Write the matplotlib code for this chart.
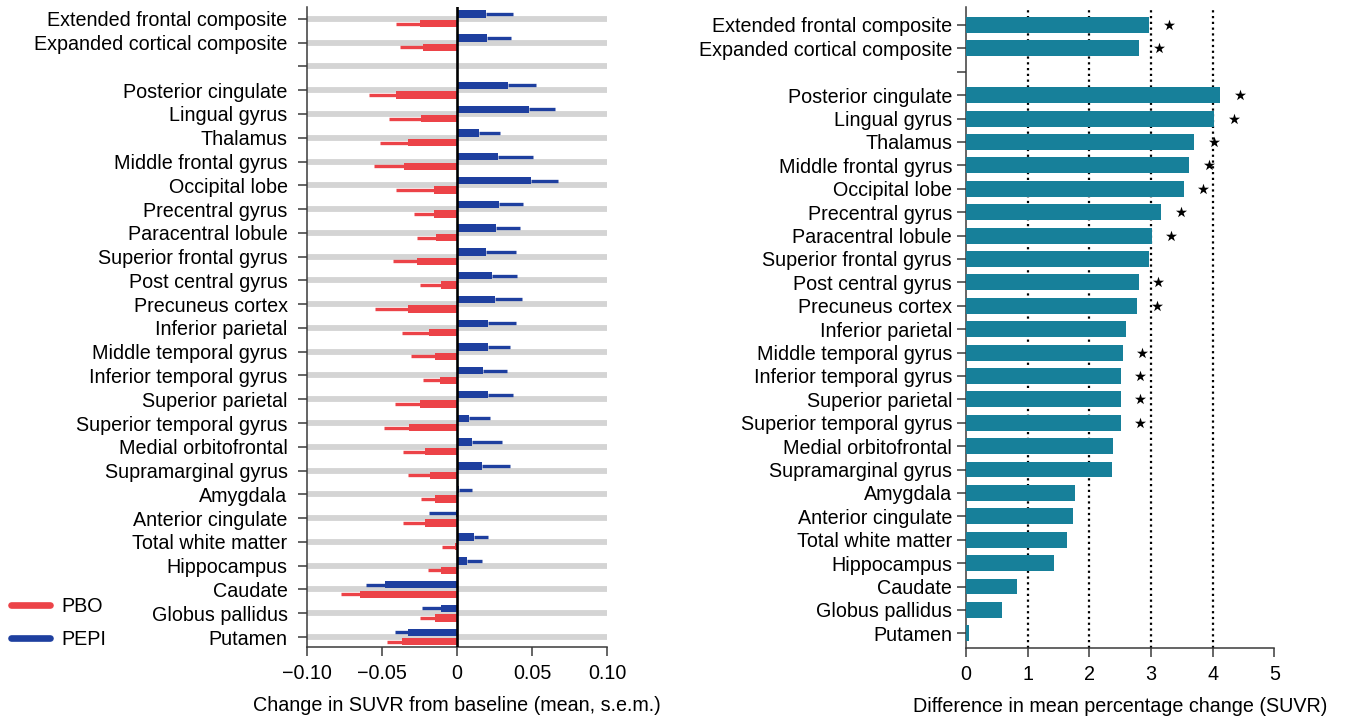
import numpy as np
import matplotlib
matplotlib.use("Agg")
import matplotlib.pyplot as plt
from matplotlib.lines import Line2D

plt.rcParams['font.family'] = ['Liberation Sans', 'DejaVu Sans']

# Brain regions, top to bottom ('' is the spacer row between composites and regions)
regions = [
    "Extended frontal composite", "Expanded cortical composite", "",
    "Posterior cingulate", "Lingual gyrus", "Thalamus", "Middle frontal gyrus",
    "Occipital lobe", "Precentral gyrus", "Paracentral lobule",
    "Superior frontal gyrus", "Post central gyrus", "Precuneus cortex",
    "Inferior parietal", "Middle temporal gyrus", "Inferior temporal gyrus",
    "Superior parietal", "Superior temporal gyrus", "Medial orbitofrontal",
    "Supramarginal gyrus", "Amygdala", "Anterior cingulate",
    "Total white matter", "Hippocampus", "Caudate", "Globus pallidus", "Putamen",
]

# Change in SUVR from baseline: mean and s.e.m. per group
pepi_mean = [0.019, 0.020, np.nan, 0.034, 0.048, 0.0145, 0.027, 0.049, 0.028, 0.026,
             0.0195, 0.023, 0.0255, 0.0205, 0.0205, 0.0175, 0.0205, 0.008, 0.010,
             0.0165, 0.001, -0.001, 0.011, 0.0065, -0.048, -0.011, -0.0325]
pepi_sem = [0.018, 0.016, np.nan, 0.0185, 0.0175, 0.014, 0.0235, 0.018, 0.016, 0.016,
            0.0195, 0.017, 0.0175, 0.0185, 0.015, 0.0155, 0.0165, 0.014, 0.020,
            0.0185, 0.009, 0.018, 0.0095, 0.010, 0.013, 0.0125, 0.009]
pbo_mean = [-0.025, -0.023, np.nan, -0.041, -0.024, -0.033, -0.0355, -0.0155, -0.0155,
            -0.014, -0.027, -0.0105, -0.033, -0.019, -0.015, -0.0115, -0.0245, -0.032,
            -0.0215, -0.018, -0.015, -0.0215, -0.0012, -0.0105, -0.0645, -0.015, -0.0365]
pbo_sem = [0.0155, 0.015, np.nan, 0.0175, 0.0215, 0.0185, 0.020, 0.025, 0.0135, 0.013,
           0.016, 0.014, 0.022, 0.018, 0.0155, 0.0115, 0.017, 0.017, 0.0145, 0.015,
           0.009, 0.0145, 0.0088, 0.009, 0.013, 0.010, 0.010]

# Difference in mean percentage change (SUVR) and significance flags
pct_diff = [2.97, 2.81, np.nan, 4.12, 4.03, 3.70, 3.62, 3.53, 3.16, 3.01, 2.97, 2.80,
            2.77, 2.59, 2.54, 2.51, 2.51, 2.51, 2.39, 2.37, 1.77, 1.74, 1.64, 1.43,
            0.82, 0.58, 0.05]
significant = [1, 1, 0, 1, 1, 1, 1, 1, 1, 1, 0, 1, 1, 0, 1, 1, 1, 1, 0, 0, 0, 0, 0, 0,
               0, 0, 0]

left_ticks = [-0.10, -0.05, 0, 0.05, 0.10]
left_ticklabels = ["\u22120.10", "\u22120.05", "0", "0.05", "0.10"]
right_ticks = [0, 1, 2, 3, 4, 5]

RED = "#ec4348"
BLUE = "#1e3f9f"
TEAL = "#17809a"
GREY_BAND = "#d4d4d4"
SPINE = "#3a3a3a"
FS = 14.2

fig = plt.figure(figsize=(13.45, 7.19), dpi=100)

n = len(regions)
ypos = np.arange(n)


def style_axis(ax, ypad):
    for s in ("top", "right"):
        ax.spines[s].set_visible(False)
    for s in ("left", "bottom"):
        ax.spines[s].set_color(SPINE)
        ax.spines[s].set_linewidth(1.1)
    ax.tick_params(axis="both", colors=SPINE, labelcolor="black", labelsize=FS,
                   length=6.5, width=1.1)
    ax.tick_params(axis="y", pad=ypad)
    ax.tick_params(axis="x", pad=6)


def one_sided(means, sems):
    means = np.asarray(means, float)
    sems = np.asarray(sems, float)
    lower = np.where(means < 0, sems, 0.0)
    upper = np.where(means >= 0, sems, 0.0)
    return np.vstack([lower, upper])


# ---- Left panel: change from baseline by group ----
axL = fig.add_axes([307 / 1345, (719 - 647) / 719, 300 / 1345, (647 - 7) / 719])
style_axis(axL, ypad=7.5)
axL.hlines(ypos, -0.10, 0.10, color=GREY_BAND, lw=4.2, zorder=1)

err_kw = dict(lw=2.4, capsize=0, capthick=0)
pm = np.nan_to_num(np.asarray(pepi_mean, float))
bm = np.nan_to_num(np.asarray(pbo_mean, float))
valid = ~np.isnan(np.asarray(pepi_mean, float))
off = 0.2
h = 0.31
axL.barh(ypos[valid] - off, pm[valid], height=h, color=BLUE, zorder=3,
         xerr=one_sided(pm[valid], np.asarray(pepi_sem)[valid]),
         error_kw=dict(ecolor=BLUE, **err_kw))
axL.barh(ypos[valid] + off, bm[valid], height=h, color=RED, zorder=3,
         xerr=one_sided(bm[valid], np.asarray(pbo_sem)[valid]),
         error_kw=dict(ecolor=RED, **err_kw))
axL.axvline(0, color="black", lw=1.9, zorder=5)

axL.set_xlim(-0.10, 0.10)
axL.set_ylim(n - 1 + 0.42, -0.5)
axL.set_yticks(ypos)
axL.set_yticklabels(regions)
axL.set_xticks(left_ticks)
axL.set_xticklabels(left_ticklabels)
axL.set_xlabel("Change in SUVR from baseline (mean, s.e.m.)", fontsize=FS, labelpad=9)

# Legend for the two treatment groups
handles = [Line2D([], [], color=RED, lw=4.8, solid_capstyle="round"),
           Line2D([], [], color=BLUE, lw=4.8, solid_capstyle="round")]
fig.legend(handles, ["PBO", "PEPI"], loc="upper left",
           bbox_to_anchor=(11 / 1345, (719 - 597) / 719), frameon=False,
           fontsize=FS, handlelength=2.0, handletextpad=0.55, borderpad=0,
           borderaxespad=0, labelspacing=0.7)

# ---- Right panel: difference in mean percentage change ----
axR = fig.add_axes([966 / 1345, (719 - 647.7) / 719, 308.3 / 1345, (647.7 - 7.3) / 719])
style_axis(axR, ypad=3.5)
for g in [1, 2, 3, 4]:
    axR.axvline(g, color="black", lw=1.6, linestyle=(0, (1, 1.6)), zorder=1)
pdv = np.asarray(pct_diff, float)
ok = ~np.isnan(pdv)
axR.barh(ypos[ok], pdv[ok], height=0.68, color=TEAL, zorder=3)
sig = np.asarray(significant, bool) & ok
axR.scatter(pdv[sig] + 0.32, ypos[sig], marker="*", s=70, color="black",
            linewidths=0, zorder=4)

axR.set_xlim(0, 5)
axR.set_ylim(n - 1 + 0.615, -0.756)
axR.set_yticks(ypos)
axR.set_yticklabels(regions)
axR.set_xticks(right_ticks)
axR.set_xlabel("Difference in mean percentage change (SUVR)", fontsize=FS, labelpad=9)

fig.savefig("out.png", dpi=100)
